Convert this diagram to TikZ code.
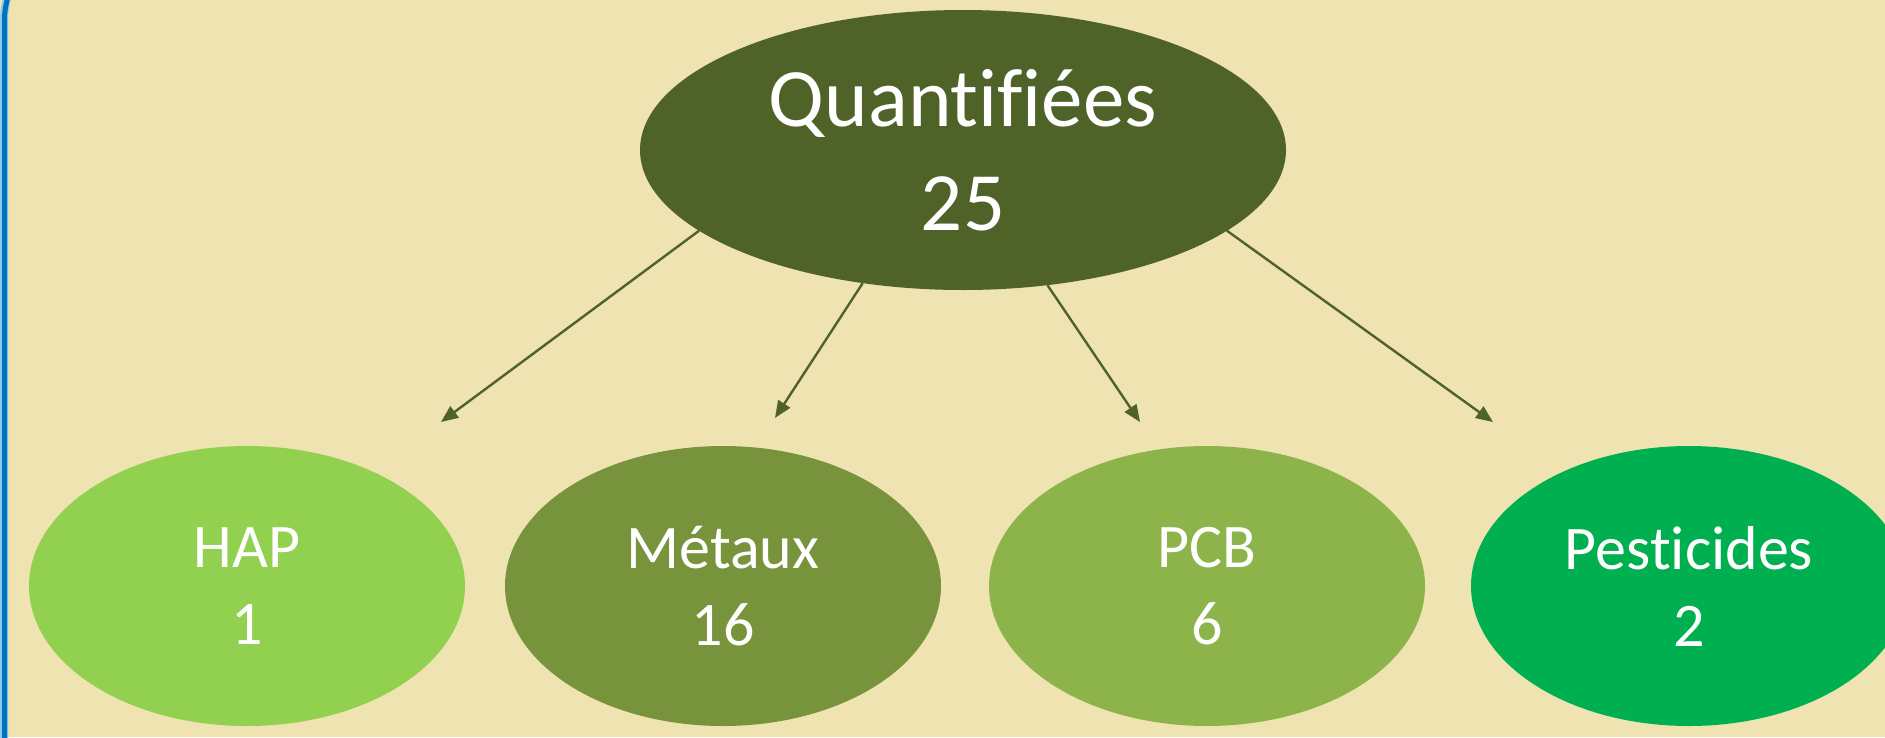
\documentclass[tikz,border=0pt]{standalone}
\usepackage{fontspec}
\setmainfont{Carlito}[Ligatures=NoCommon]
\usetikzlibrary{shapes.geometric,arrows.meta}
\definecolor{bgtan}{HTML}{EFE4B1}
\definecolor{darkolive}{HTML}{4F6228}
\definecolor{hapgreen}{HTML}{92D050}
\definecolor{metgreen}{HTML}{77933C}
\definecolor{pcbgreen}{HTML}{8DB44A}
\definecolor{pestgreen}{HTML}{00B050}
\definecolor{edgeblue}{HTML}{0070C0}
\definecolor{edgelightblue}{HTML}{8FC8EA}
\tikzset{
  topoval/.style={ellipse, fill=darkolive, text=white, inner sep=0pt, outer sep=0pt,
    minimum width=646pt, minimum height=280pt, align=center,
    font=\fontsize{83pt}{104pt}\selectfont},
  suboval/.style={ellipse, text=white, inner sep=0pt, outer sep=0pt,
    minimum width=436pt, minimum height=280pt, align=center,
    font=\fontsize{62pt}{77pt}\selectfont},
  conn/.style={darkolive, line width=2.4pt, -{Triangle[length=17pt,width=14pt]}}
}
\begin{document}
\begin{tikzpicture}[x=1pt,y=-1pt]
\useasboundingbox (0,0) rectangle (1885,737);
\clip (0,0) rectangle (1885,737);
\fill[bgtan] (0,0) rectangle (1885,737);
% left blue edge
\draw[edgelightblue, line width=8pt] (4,740) -- (4,30) .. controls (4,12) .. (7,-2);
\draw[edgeblue, line width=5pt] (4.5,740) -- (4.5,30) .. controls (4.5,12) .. (7.5,-2);
% nodes
\node[topoval] (top) at (963,150) {Quantifiées\\25};
\node[suboval, fill=hapgreen] (hap) at (247,586) {HAP\\1};
\node[suboval, fill=metgreen] (met) at (723,586) {Métaux\\16};
\node[suboval, fill=pcbgreen] (pcb) at (1207,586) {PCB\\6};
\node[suboval, fill=pestgreen] (pest) at (1689,586) {Pesticides\\2};
% arrow end points
\coordinate (e1) at (441,422);
\coordinate (e2) at (775,418);
\coordinate (e3) at (1140,422);
\coordinate (e4) at (1493,422);
\draw[conn] (top.197.4) -- (e1);
\draw[conn] (top.233.3) -- (e2);
\draw[conn] (top.302.6) -- (e3);
\draw[conn] (top.343.7) -- (e4);
\end{tikzpicture}
\end{document}
